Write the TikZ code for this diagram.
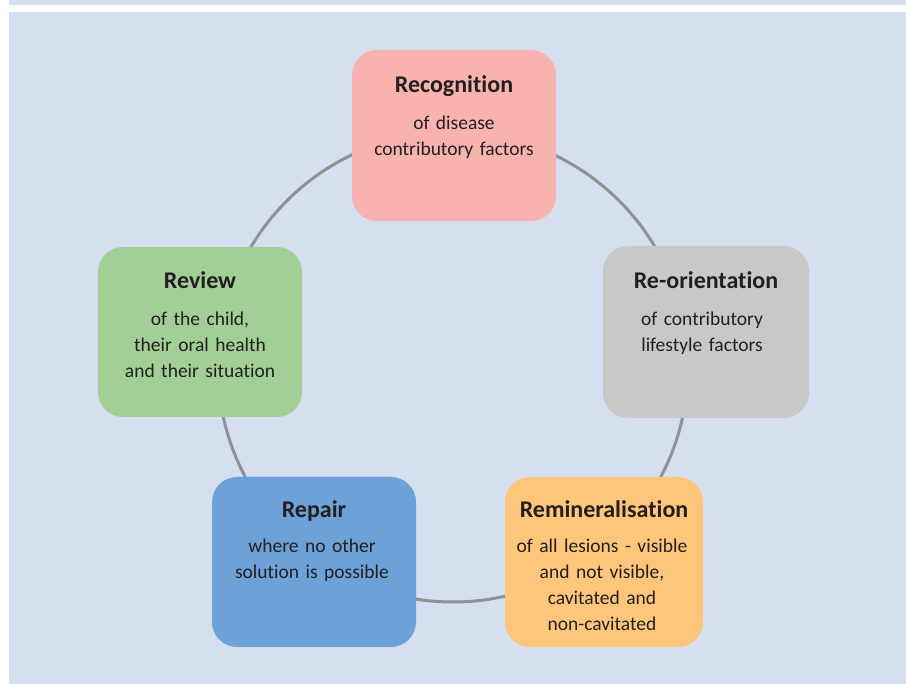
\documentclass[tikz,border=0pt]{standalone}
\usepackage{fontspec}
\setmainfont{Carlito}[Ligatures={NoCommon}]

\definecolor{bgblue}{HTML}{D5DFEF}
\definecolor{ringgray}{HTML}{8E9298}
\definecolor{ink}{HTML}{231F20}
\definecolor{recpink}{HTML}{F8B3AE}
\definecolor{reogray}{HTML}{C8C8C8}
\definecolor{remorange}{HTML}{FEC67B}
\definecolor{repblue}{HTML}{6CA2D7}
\definecolor{revgreen}{HTML}{A1CF96}

\begin{document}
\begin{tikzpicture}[x=1pt,y=-1pt,
  box/.style={rounded corners=25pt,minimum width=204pt,minimum height=171pt,inner sep=0pt},
  ttl/.style={anchor=base,inner sep=0pt,text=ink,font=\fontsize{24}{28}\selectfont\bfseries},
  txt/.style={anchor=base,inner sep=0pt,text=ink,text width=200pt,align=center,
    font=\fontsize{19.5}{26}\selectfont}]
\useasboundingbox (0,0) rectangle (906,684);
\fill[white] (0,0) rectangle (906,684);
\fill[bgblue] (9,0) rectangle (906,5);
\fill[bgblue] (9,12) rectangle (906,684);
% ring behind the boxes
\draw[ringgray,line width=3pt] (453,367) circle[radius=235pt];
% Recognition
\node[box,fill=recpink] (rec) at (454,135.5) {};
\node[ttl] (rec-t) at (454,93) {Recognition};
\node[txt] (rec-b) at (454,130) {of disease\\contributory factors};
% Re-orientation
\node[box,fill=reogray,minimum width=206pt,minimum height=172pt] (reo) at (706,332) {};
\node[ttl] (reo-t) at (706,289) {Re-orientation};
\node[txt] (reo-b) at (702,326) {of contributory\\lifestyle factors};
% Remineralisation
\node[box,fill=remorange,minimum width=198pt,minimum height=170pt] (rem) at (604,562) {};
\node[ttl] (rem-t) at (604,518) {Remineralisation};
\node[txt] (rem-b) at (602,553) {of all lesions - visible\\and not visible,\\cavitated and\\non-cavitated};
% Repair
\node[box,fill=repblue,minimum height=170pt] (rep) at (314,562) {};
\node[ttl] (rep-t) at (314,518) {Repair};
\node[txt] (rep-b) at (312,553) {where no other\\solution is possible};
% Review
\node[box,fill=revgreen,minimum height=170pt] (rev) at (200,332) {};
\node[ttl] (rev-t) at (200,289) {Review};
\node[txt] (rev-b) at (200,326) {of the child,\\their oral health\\and their situation};
\end{tikzpicture}
\end{document}
